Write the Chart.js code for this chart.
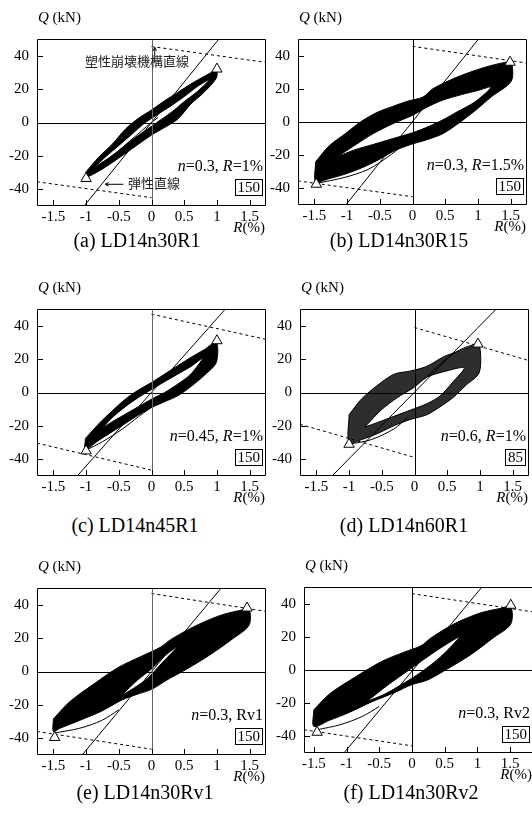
<!DOCTYPE html>
<html>
<head>
<meta charset="utf-8">
<script src="https://cdn.jsdelivr.net/npm/chart.js@4.4.1/dist/chart.umd.min.js"></script>
<style>
  body { margin: 0; background: #fff; width: 532px; height: 814px; overflow: hidden; position: relative;
         font-family: 'Liberation Serif', 'Times New Roman', serif; }
  canvas { position: absolute; }
  .t { position: absolute; white-space: nowrap; color: #000; }
  .jp { font-family: 'Noto Sans CJK JP', sans-serif; font-size: 13px; color: #222; }
  .box { border: 1px solid #000; padding: 0 2px; line-height: 13px; font-size: 15px; }
</style>
</head>
<body>
<script>
// hysteresis loops Q-R, six specimens

// axis ticks
const xTicks = [-1.5, -1, -0.5, 0, 0.5, 1, 1.5];
const yTicks = [-40, -20, 0, 20, 40];

// (a) LD14n30R1  [R(%), Q(kN)]
const aOuter = [[-1.0,-29.5],[-0.8,-20.5],[-0.6,-13],[-0.4,-4],[-0.2,2.5],[0,7.5],[0.2,13],[0.4,18],[0.6,23],[0.8,27.5],[0.99,31],[0.99,26.5],[0.8,18],[0.6,11],[0.4,2],[0.2,-3],[0,-7.5],[-0.2,-13],[-0.4,-18.5],[-0.6,-24],[-0.8,-29],[-0.99,-32.5],[-1.0,-29.5]];
const aHole = [[-0.88,-27],[-0.7,-20.5],[-0.5,-13.8],[-0.3,-7],[-0.1,-0.2],[0.1,5],[0.3,10],[0.5,15.5],[0.7,21.5],[0.88,25.5],[0.7,18.5],[0.5,12.5],[0.3,6],[0.1,0.5],[-0.1,-5],[-0.3,-10.5],[-0.5,-16.8],[-0.7,-22.5],[-0.88,-27]];
const aFirst = [[0.1,3],[0,0],[-0.3,-10],[-0.55,-18.5],[-0.8,-26.5],[-1.0,-33.5]];
const aElastic = [[-1.03,-50],[1.03,50]];
const aMechPos = [[0,45.5],[1.75,36]];
const aMechNeg = [[-1.75,-35.5],[0,-45]];
const aPeaks = [[1.0,32],[-1.0,-33.5]];

// (b) LD14n30R15
const bOuter = [[-1.48,-24],[-1.28,-14.6],[-1.03,-7.1],[-0.78,0.4],[-0.53,6],[-0.28,9.7],[-0.08,12.5],[0.16,15],[0.31,20],[0.71,27.5],[1.11,33],[1.41,35.9],[1.51,36],[1.51,24.7],[1.21,15.3],[0.96,6.9],[0.71,-0.6],[0.46,-7.1],[0.21,-10.8],[-0.03,-13.6],[-0.28,-17.4],[-0.53,-23],[-0.78,-27.7],[-1.03,-31.4],[-1.28,-34.2],[-1.48,-36],[-1.48,-24]];
const bHole = [[-1.15,-21],[-0.9,-14.5],[-0.6,-7],[-0.3,-1],[0,4],[0.2,8.5],[0.45,13],[0.75,16.5],[1.0,19],[1.2,21],[0.95,12],[0.7,6.5],[0.45,1],[0.2,-3.5],[0,-6.5],[-0.3,-10],[-0.6,-13.5],[-0.9,-17],[-1.15,-21]];
const bFirst = [[-1.47,-37],[-1.03,-33.3],[-0.68,-28.6],[-0.38,-21.1],[-0.13,-13.6],[0,-10]];
const bElastic = [[-1.02,-50],[1.01,50]];
const bMechPos = [[0,45.6],[1.75,35.5]];
const bMechNeg = [[-1.75,-35.5],[0,-45]];
const bPeaks = [[1.49,36],[-1.47,-37.5]];

// (c) LD14n45R1
const cOuter = [[-1.01,-27.5],[-0.8,-18.5],[-0.6,-11],[-0.4,-4],[-0.2,1.5],[0,6],[0.2,11],[0.4,16],[0.6,21],[0.8,25.5],[0.99,30],[0.99,18],[0.8,10],[0.6,3.5],[0.4,-2],[0.2,-5.5],[0,-9],[-0.2,-13.5],[-0.4,-18.5],[-0.6,-23.5],[-0.8,-28.5],[-1.01,-34],[-1.01,-27.5]];
const cHole = [[-0.74,-21],[-0.6,-15],[-0.4,-8.5],[-0.2,-3],[0,1.8],[0.2,6.5],[0.4,11],[0.6,15.5],[0.78,20.5],[0.6,11],[0.4,5],[0.2,0],[0,-4],[-0.2,-8.5],[-0.4,-13],[-0.6,-17.5],[-0.74,-21]];
const cFirst = [[-1.0,-34.5],[-0.75,-29.5],[-0.45,-22],[-0.2,-14.5],[0.05,-7.5]];
const cElastic = [[-1.135,-50],[1.13,50]];
const cMechPos = [[0,46.9],[1.75,31.8]];
const cMechNeg = [[-1.75,-30.3],[0,-46.5]];
const cPeaks = [[1.0,31],[-1.0,-35]];

// (d) LD14n60R1
const dOuter = [[-1.0,-13.3],[-0.81,-3.9],[-0.56,4.5],[-0.31,11],[-0.06,12.9],[0.19,15.7],[0.44,21.3],[0.69,25],[0.89,27.9],[0.99,28.5],[0.99,12],[0.79,4.5],[0.59,-3],[0.39,-8.6],[0.19,-13.3],[-0.06,-16.1],[-0.31,-19.8],[-0.56,-24.5],[-0.81,-28.2],[-1.0,-30],[-1.0,-13.3]];
const dHole = [[-0.76,-20.7],[-0.51,-10.5],[-0.26,-3],[-0.01,3],[0.19,9.2],[0.49,12.9],[0.76,14.8],[0.59,6.4],[0.39,-2.1],[0.19,-6.7],[-0.06,-10.5],[-0.31,-14.2],[-0.56,-17.9],[-0.76,-20.7]];
const dFirst = [[-1.0,-31],[-0.66,-28.2],[-0.31,-21.7],[-0.11,-15.1]];
const dFirstPos = [[0.15,8],[0.44,18.5],[0.69,25.5],[0.96,29.5]];
const dElastic = [[-1.26,-50],[1.25,50]];
const dMechPos = [[0,38.9],[1.75,19.1]];
const dMechNeg = [[-1.75,-19],[0,-38.9]];
const dPeaks = [[0.97,29],[-1.0,-31]];

// (e) LD14n30Rv1
const eOuter = [[-1.5,-28.4],[-1.25,-18.1],[-0.86,-6.9],[-0.51,2.4],[-0.16,9],[0.14,14.6],[0.29,19],[0.64,26.7],[1.03,33.3],[1.33,36.4],[1.49,37],[1.49,27.7],[1.23,19.3],[0.89,9.9],[0.54,1.5],[0.24,-5],[0,-10.7],[-0.21,-13.5],[-0.46,-17.2],[-0.76,-23.7],[-1.1,-29.3],[-1.4,-34],[-1.5,-35.9],[-1.5,-28.4]];
const eHole = [[-0.46,-14.4],[-0.21,-5],[0,1.5],[0.19,9],[0.39,14.6],[0.14,4.3],[-0.06,-4.1],[-0.26,-9.7],[-0.46,-14.4]];
const eFirst = [[-1.48,-36.8],[-1.1,-34],[-0.76,-29.3],[-0.5,-23]];
const eElastic = [[-1.06,-50],[1.065,50]];
const eMechPos = [[0,46.7],[1.75,36]];
const eMechNeg = [[-1.75,-35.9],[0,-46.5]];
const ePeaks = [[1.46,38],[-1.48,-39.5]];

// (f) LD14n30Rv2
const fOuter = [[-1.5,-24],[-1.26,-14.4],[-0.86,-4.1],[-0.46,5.2],[-0.11,10.9],[0.14,14.6],[0.29,19.3],[0.64,27.7],[1.04,34.3],[1.34,37],[1.51,38],[1.51,27.7],[1.24,19.3],[0.89,9],[0.54,0.6],[0.24,-6],[0,-8.8],[-0.26,-13.5],[-0.61,-19.1],[-0.96,-25.6],[-1.26,-30.3],[-1.5,-34],[-1.5,-24]];
const fHole = [[-0.69,-19],[-0.36,-8.8],[-0.06,-0.4],[0.24,8],[0.49,14.6],[0.72,19.7],[0.44,8],[0.14,-1.3],[-0.16,-8.8],[-0.41,-14.4],[-0.69,-19]];
const fFirst = [[-1.45,-36],[-1.1,-33],[-0.76,-28],[-0.5,-22]];
const fElastic = [[-1.04,-50],[1.07,50]];
const fMechPos = [[0,46],[1.85,35]];
const fMechNeg = [[-1.65,-36],[0,-45.7]];
const fPeaks = [[1.51,39],[-1.45,-37.5]];

// annotation arrows in panel (a): [x1, y1, x2(head), y2(head)]
const aArrows = [[0.05,36,0.05,45],[-0.43,-37,-0.71,-37]];

// text
const captions = ['(a) LD14n30R1', '(b) LD14n30R15', '(c) LD14n45R1', '(d) LD14n60R1', '(e) LD14n30Rv1', '(f) LD14n30Rv2'];
const params = ['<i>n</i>=0.3, <i>R</i>=1%', '<i>n</i>=0.3, <i>R</i>=1.5%', '<i>n</i>=0.45, <i>R</i>=1%',
                '<i>n</i>=0.6, <i>R</i>=1%', '<i>n</i>=0.3, Rv1', '<i>n</i>=0.3, Rv2'];
const boxes = ['150', '150', '150', '85', '150', '150'];

// layout
const AXIS_W = 37, AXIS_H = 24, PAD_T = 6, PAD_R = 2;
const FONT = { family: "'Liberation Serif', 'Times New Roman', serif", size: 15 };

const panels = [
    { left: 37,  top: 28,  width: 234, height: 178, xmin: -1.75, xmax: 1.75, zero: '#666', bandColor: '#000',
      outer: aOuter, hole: aHole, first: [aFirst], elastic: aElastic, mech: [aMechPos, aMechNeg], peaks: aPeaks, arrows: aArrows,
      capX: 137, capY: 241 },
    { left: 298, top: 28,  width: 234, height: 177, xmin: -1.75, xmax: 1.75, zero: '#000', bandColor: '#000',
      outer: bOuter, hole: bHole, first: [bFirst], elastic: bElastic, mech: [bMechPos, bMechNeg], peaks: bPeaks, arrows: [],
      capX: 399, capY: 241 },
    { left: 37,  top: 298, width: 234, height: 178, xmin: -1.75, xmax: 1.75, zero: '#666', bandColor: '#000',
      outer: cOuter, hole: cHole, first: [cFirst], elastic: cElastic, mech: [cMechPos, cMechNeg], peaks: cPeaks, arrows: [],
      capX: 135, capY: 526 },
    { left: 300, top: 298, width: 234, height: 178, xmin: -1.75, xmax: 1.75, zero: '#000', bandColor: '#2e2e2e',
      outer: dOuter, hole: dHole, first: [dFirst, dFirstPos], elastic: dElastic, mech: [dMechPos, dMechNeg], peaks: dPeaks, arrows: [],
      capX: 404, capY: 526 },
    { left: 37,  top: 577, width: 234, height: 178, xmin: -1.75, xmax: 1.75, zero: '#666', bandColor: '#000',
      outer: eOuter, hole: eHole, first: [eFirst], elastic: eElastic, mech: [eMechPos, eMechNeg], peaks: ePeaks, arrows: [],
      capX: 145, capY: 793 },
    { left: 304, top: 576, width: 234, height: 177, xmin: -1.65, xmax: 1.85, zero: '#000', bandColor: '#000',
      outer: fOuter, hole: fHole, first: [fFirst], elastic: fElastic, mech: [fMechPos, fMechNeg], peaks: fPeaks, arrows: [],
      capX: 411, capY: 793 }
];

function pts(arr) {
    return arr.map(([x, y]) => ({ x, y }));
}

// Frame, zero lines, inward tick marks and arrows
const frameTicks = {
    id: 'frameTicks',
    afterDatasetsDraw(chart, args, opts) {
        const { ctx, chartArea: a, scales: { x, y } } = chart;
        ctx.save();
        ctx.lineWidth = 1;

        // zero lines
        const x0 = Math.round(x.getPixelForValue(0)) + 0.5;
        const y0 = Math.round(y.getPixelForValue(0)) + 0.5;
        ctx.strokeStyle = '#000';
        ctx.beginPath();
        ctx.moveTo(a.left, y0); ctx.lineTo(a.right, y0);
        ctx.stroke();
        ctx.strokeStyle = opts.zero || '#000';
        ctx.beginPath();
        ctx.moveTo(x0, a.top); ctx.lineTo(x0, a.bottom);
        ctx.stroke();

        // frame and ticks
        ctx.strokeStyle = '#000';
        ctx.beginPath();
        ctx.rect(Math.round(a.left) + 0.5, Math.round(a.top) + 0.5, Math.round(a.width) - 1, Math.round(a.height) - 1);
        x.ticks.forEach(t => {
            const px = Math.round(x.getPixelForValue(t.value)) + 0.5;
            ctx.moveTo(px, a.bottom);
            ctx.lineTo(px, a.bottom - 6);
        });
        y.ticks.forEach(t => {
            const py = Math.round(y.getPixelForValue(t.value)) + 0.5;
            ctx.moveTo(a.left, py);
            ctx.lineTo(a.left + 6, py);
        });
        ctx.stroke();

        // arrows
        (opts.arrows || []).forEach(([x1, y1, x2, y2]) => {
            const p1 = { x: x.getPixelForValue(x1), y: y.getPixelForValue(y1) };
            const p2 = { x: x.getPixelForValue(x2), y: y.getPixelForValue(y2) };
            const ang = Math.atan2(p2.y - p1.y, p2.x - p1.x);
            ctx.beginPath();
            ctx.moveTo(p1.x, p1.y);
            ctx.lineTo(p2.x, p2.y);
            ctx.moveTo(p2.x - 4 * Math.cos(ang - 0.45), p2.y - 4 * Math.sin(ang - 0.45));
            ctx.lineTo(p2.x, p2.y);
            ctx.lineTo(p2.x - 4 * Math.cos(ang + 0.45), p2.y - 4 * Math.sin(ang + 0.45));
            ctx.stroke();
        });
        ctx.restore();
    }
};

function band(arr, color, order) {
    return { data: pts(arr), borderColor: '#000', borderWidth: 1, backgroundColor: color,
             fill: 'shape', pointRadius: 0, tension: 0.3, order };
}

function curve(arr, dash, order) {
    return { data: pts(arr), borderColor: '#000', borderWidth: 1, borderDash: dash,
             fill: false, pointRadius: 0, tension: 0.3, order };
}

function createPanel(p, i) {
    const cw = AXIS_W + p.width + PAD_R;
    const ch = PAD_T + p.height + AXIS_H;
    const canvas = document.createElement('canvas');
    canvas.width = cw;
    canvas.height = ch;
    canvas.style.left = (p.left - AXIS_W) + 'px';
    canvas.style.top = (p.top - PAD_T) + 'px';
    canvas.style.width = cw + 'px';
    canvas.style.height = ch + 'px';
    document.body.appendChild(canvas);

    const datasets = [
        band(p.outer, p.bandColor, 6),
        band(p.hole, '#fff', 5),
        ...p.first.map(f => curve(f, [], 3)),
        curve(p.elastic, [], 2),
        ...p.mech.map(m => curve(m, [3, 3], 2)),
        { data: pts(p.peaks), showLine: false, pointStyle: 'triangle', pointRadius: 6,
          pointBackgroundColor: '#fff', pointBorderColor: '#000', pointBorderWidth: 1, order: 0 }
    ];

    new Chart(canvas.getContext('2d'), {
        type: 'line',
        data: { datasets },
        options: {
            responsive: false,
            animation: false,
            devicePixelRatio: 1,
            layout: { padding: { top: PAD_T, right: PAD_R, left: 0, bottom: 0 } },
            plugins: {
                legend: { display: false },
                tooltip: { enabled: false },
                frameTicks: { zero: p.zero, arrows: p.arrows }
            },
            scales: {
                x: {
                    type: 'linear', min: p.xmin, max: p.xmax,
                    grid: { display: false, drawTicks: false },
                    border: { display: false },
                    afterBuildTicks: s => { s.ticks = xTicks.map(v => ({ value: v })); },
                    afterFit: s => { s.height = AXIS_H; },
                    ticks: { padding: 2, font: FONT, color: '#000', autoSkip: false, maxRotation: 0,
                             callback: v => String(v) }
                },
                y: {
                    type: 'linear', min: -50, max: 50,
                    grid: { display: false, drawTicks: false },
                    border: { display: false },
                    afterBuildTicks: s => { s.ticks = yTicks.map(v => ({ value: v })); },
                    afterFit: s => { s.width = AXIS_W; },
                    ticks: { padding: 8, font: FONT, color: '#000', callback: v => String(v) }
                }
            }
        },
        plugins: [frameTicks]
    });

    // labels around the plot
    addText(`<i>Q</i> (kN)`, p.left + 1, p.top - 18, 15);
    addText(`<i>R</i>(%)`, null, p.top + p.height + 14, 15, 532 - (p.left + p.width - 6));
    addText(params[i], null, p.top + p.height - 48, 16, 532 - (p.left + p.width - 8));
    const b = addText(boxes[i], null, p.top + p.height - 27, 15, 532 - (p.left + p.width - 8));
    b.classList.add('box');
    const cap = addText(captions[i], p.capX - 100, p.capY - 11, 20);
    cap.style.width = '200px';
    cap.style.textAlign = 'center';
}

function addText(html, left, top, size, right) {
    const el = document.createElement('div');
    el.className = 't';
    el.innerHTML = html;
    el.style.fontSize = size + 'px';
    el.style.lineHeight = size + 'px';
    el.style.top = top + 'px';
    if (left !== null) el.style.left = left + 'px';
    if (right !== undefined) el.style.right = right + 'px';
    el.style.zIndex = 2;
    document.body.appendChild(el);
    return el;
}

panels.forEach(createPanel);

// Japanese annotations in panel (a)
const jp1 = addText('塑性崩壊機構直線', 85, 54, 13);
jp1.classList.add('jp');
const jp2 = addText('弾性直線', 128, 176, 13);
jp2.classList.add('jp');
</script>
</body>
</html>
